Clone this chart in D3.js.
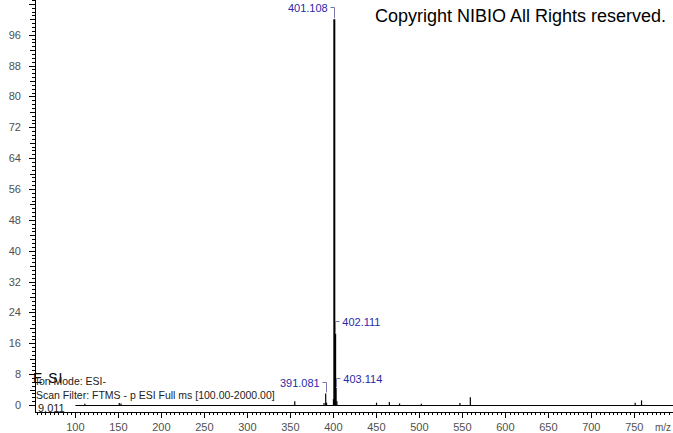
<!DOCTYPE html>
<html>
<head>
<meta charset="utf-8">
<script src="https://cdn.jsdelivr.net/npm/d3@7"></script>
<style>
  body { margin: 0; background: #fff; }
  svg { display: block; font-family: "Liberation Sans", Arial, sans-serif; }
</style>
</head>
<body>
<script>
// peak list (m/z, relative abundance)
const peakMz = [111.0, 151.0, 153.0, 355.1, 389.1, 391.081, 392.08, 400.1, 401.108, 401.6, 402.111, 402.6, 403.114, 404.11,
  450.2, 465.1, 477.0, 502.3, 547.2, 559.3, 751.0, 758.4];
const peakInt = [0.3, 0.5, 0.4, 1.0, 0.5, 3.0, 0.6, 1.5, 100, 2.0, 18.5, 1.2, 4.4, 1.0,
  0.6, 0.8, 0.4, 0.3, 0.5, 2.0, 0.6, 1.2];
const labelled = [
  { mz: 401.108, text: "401.108", side: "left" },
  { mz: 402.111, text: "402.111", side: "right" },
  { mz: 403.114, text: "403.114", side: "right" },
  { mz: 391.081, text: "391.081", side: "left" },
];
const yTicks = [0, 8, 16, 24, 32, 40, 48, 56, 64, 72, 80, 88, 96];
const xTicks = [100, 150, 200, 250, 300, 350, 400, 450, 500, 550, 600, 650, 700, 750];

const W = 673, H = 433;
const svg = d3.select("body").append("svg").attr("width", W).attr("height", H);

const x = d3.scaleLinear().domain([53.0, 795.0]).range([35, 673]);
const y = d3.scaleLinear().domain([0, 105]).range([405, 0]);

const axisY = 412;
const tickCol = "#505050";

// y axis
svg.append("line").attr("x1", 35.5).attr("x2", 35.5).attr("y1", 0).attr("y2", axisY)
  .attr("stroke", "#000");
svg.selectAll(".ytick").data(d3.range(0, 106, 1)).enter().append("line")
  .attr("x1", 35).attr("y1", (d) => Math.round(y(d)) + 0.5)
  .attr("x2", (d) => (d % 8 === 0 ? 29 : d % 4 === 0 ? 30 : 32))
  .attr("y2", (d) => Math.round(y(d)) + 0.5)
  .attr("stroke", "#000");
svg.selectAll(".ylab").data(yTicks).enter().append("text")
  .attr("x", 21).attr("y", (d) => y(d) + 4)
  .attr("text-anchor", "end").attr("font-size", 11).attr("fill", tickCol)
  .text((d) => d);

// x axis
svg.append("line").attr("x1", 35).attr("x2", W).attr("y1", axisY + 0.5).attr("y2", axisY + 0.5)
  .attr("stroke", "#000");
svg.selectAll(".xtick").data(d3.range(55, 796, 5)).enter().append("line")
  .attr("x1", (d) => Math.round(x(d)) + 0.5).attr("x2", (d) => Math.round(x(d)) + 0.5)
  .attr("y1", axisY).attr("y2", (d) => axisY + (d % 50 === 0 ? 6 : 3))
  .attr("stroke", "#000");
svg.selectAll(".xlab").data(xTicks).enter().append("text")
  .attr("x", (d) => x(d)).attr("y", 431)
  .attr("text-anchor", "middle").attr("font-size", 11).attr("fill", tickCol)
  .text((d) => d);
svg.append("text").attr("x", 655).attr("y", 431).attr("font-size", 10).attr("fill", tickCol).text("m/z");

// baseline of the spectrum
svg.append("line").attr("x1", x(100)).attr("x2", W).attr("y1", 405.5).attr("y2", 405.5)
  .attr("stroke", "#000");

// peaks
const peaks = peakMz.map((m, i) => ({ mz: m, v: peakInt[i] }));
svg.selectAll(".peak").data(peaks).enter().append("line")
  .attr("x1", (d) => x(d.mz)).attr("x2", (d) => x(d.mz))
  .attr("y1", y(0)).attr("y2", (d) => y(d.v))
  .attr("stroke", "#000").attr("stroke-width", (d) => (d.v > 10 ? 2 : 1.2));

// peak labels with bracket leaders
const blue = "#2a2aa8", lead = "#7878a8";
const labelY = { "401.108": 12, "402.111": 326, "403.114": 383, "391.081": 387 };
labelled.forEach((l) => {
  const v = peakInt[peakMz.indexOf(l.mz)];
  const px = Math.round(x(l.mz)) + 0.5;
  const ty = labelY[l.text];
  const ly = ty - 4.5;
  const dx = l.side === "left" ? -4 : 4;
  svg.append("path")
    .attr("d", `M${px + dx},${ly}H${px}V${Math.min(y(v) - 1, ly + 12)}`)
    .attr("fill", "none").attr("stroke", lead);
  svg.append("text")
    .attr("x", px + dx * 1.7).attr("y", ty)
    .attr("text-anchor", l.side === "left" ? "end" : "start")
    .attr("font-size", 11).attr("fill", blue).text(l.text);
});

// header / info texts
svg.append("text").attr("x", 375).attr("y", 22).attr("font-size", 18).attr("fill", "#000")
  .text("Copyright NIBIO All Rights reserved.");
svg.append("text").attr("x", 33).attr("y", 383).attr("font-size", 14).attr("fill", "#000")
  .attr("letter-spacing", 1).text("E SI");
const info = ["Ion Mode: ESI-", "Scan Filter: FTMS - p ESI Full ms [100.00-2000.00]"];
svg.selectAll(".info").data(info).enter().append("text")
  .attr("x", 36).attr("y", (d, i) => 385 + i * 14)
  .attr("font-size", 10.5).attr("fill", "#222").text((d) => d);
svg.append("text").attr("x", 38).attr("y", 412).attr("font-size", 11).attr("fill", "#222").text("9.011");
</script>
</body>
</html>
